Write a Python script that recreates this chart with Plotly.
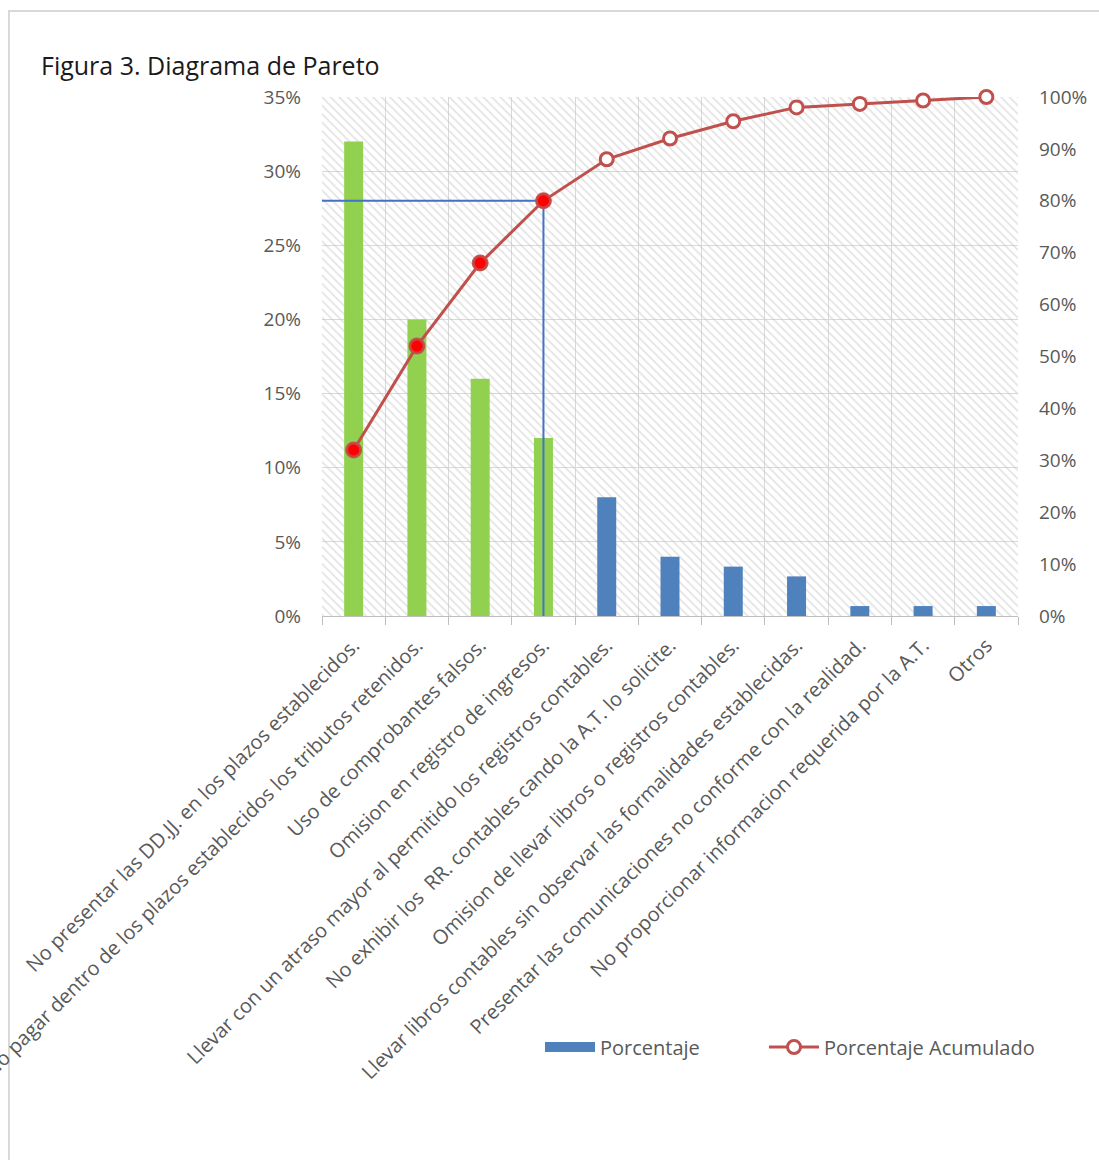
import plotly.graph_objects as go

categories = [
    "No presentar las DD.JJ. en los plazos establecidos.",
    "No pagar dentro de los plazos establecidos los tributos retenidos.",
    "Uso de comprobantes falsos.",
    "Omision en registro de ingresos.",
    "Llevar con un atraso mayor al permitido los registros contables.",
    "No exhibir los  RR. contables cando la A.T. lo solicite.",
    "Omision de llevar libros o registros contables.",
    "Llevar libros contables sin observar las formalidades establecidas.",
    "Presentar las comunicaciones no conforme con la realidad.",
    "No proporcionar informacion requerida por la A.T.",
    "Otros",
]
porcentaje = [32.0, 20.0, 16.0, 12.0, 8.0, 4.0, 3.33, 2.67, 0.67, 0.67, 0.67]
acumulado = [32.0, 52.0, 68.0, 80.0, 88.0, 92.0, 95.33, 98.0, 98.67, 99.33, 100.0]
left_ticks = [0, 5, 10, 15, 20, 25, 30, 35]
right_ticks = [0, 10, 20, 30, 40, 50, 60, 70, 80, 90, 100]
threshold = 80.0

n = len(categories)
idx = list(range(n))
vital = [a <= threshold for a in acumulado]
GREEN = "#92D050"
BLUE = "#4F81BD"
RED = "#C0504D"
GRAY = "#595959"
FONT = "Open Sans"

# plot area in px
L, R, T, B = 322, 1018, 97, 616
W, H = R - L, B - T
def px_x(p):
    return (p - L) / W
def px_y(p):
    return (B - p) / H

fig = go.Figure()

# hatched background of plot area
fig.add_trace(go.Bar(
    x=[(n - 1) / 2], y=[left_ticks[-1]], width=[n],
    marker=dict(color="rgba(0,0,0,0)", line=dict(width=0),
                pattern=dict(shape="\\", fgcolor="#c8c8c8", bgcolor="rgba(0,0,0,0)",
                             size=6, solidity=0.3, fillmode="overlay")),
    showlegend=False, hoverinfo="skip"))

fig.add_trace(go.Bar(
    x=idx, y=porcentaje, width=0.3,
    marker=dict(color=[GREEN if v else BLUE for v in vital], line=dict(width=0)),
    showlegend=False, name="Porcentaje"))

# legend-only entry (wide swatch)
fig.add_trace(go.Scatter(x=[None], y=[None], mode="lines", name="Porcentaje",
                         line=dict(color=BLUE, width=12), legend="legend"))

# pareto 80% guide lines
cut = max(i for i in idx if vital[i])
fig.add_trace(go.Scatter(
    x=[-0.5, cut, cut], y=[threshold, threshold, 0], yaxis="y2", mode="lines",
    line=dict(color="#4472C4", width=2), showlegend=False, hoverinfo="skip"))

fig.add_trace(go.Scatter(
    x=idx, y=acumulado, yaxis="y2", mode="lines+markers", name="Porcentaje Acumulado",
    line=dict(color=RED, width=3), cliponaxis=False, legend="legend2",
    marker=dict(size=13, color="white", line=dict(color=RED, width=3))))

fig.add_trace(go.Scatter(
    x=[i for i in idx if vital[i]], y=[a for a, v in zip(acumulado, vital) if v],
    yaxis="y2", mode="markers", showlegend=False, cliponaxis=False,
    marker=dict(size=14, color="#FF0000", line=dict(color="rgba(192,80,77,0.8)", width=3))))

fig.update_layout(
    width=1099, height=1160,
    margin=dict(l=L, r=1099 - R, t=T, b=1160 - B, autoexpand=False),
    paper_bgcolor="white", plot_bgcolor="white",
    barmode="overlay",
    font=dict(family=FONT, color=GRAY, size=19),
    title=dict(text="Figura 3. Diagrama de Pareto", x=41 / 1099, xanchor="left",
               y=1 - 66 / 1160, yanchor="middle",
               font=dict(family=FONT, size=25, color="#1a1a1a")),
    xaxis=dict(range=[-0.5, n - 0.5], tickmode="array", tickvals=idx, ticktext=categories,
               tickangle=-45, showgrid=False, zeroline=False, ticks="",
               showline=True, linecolor="#bfbfbf", linewidth=1,
               tickfont=dict(size=20, color=GRAY), ticklabeloverflow="allow",
               ticklabelstandoff=9,
               minor=dict(tickmode="array", tickvals=[i - 0.5 for i in range(n + 1)],
                          showgrid=True, gridcolor="#d9d9d9", gridwidth=1,
                          ticks="outside", ticklen=8, tickcolor="#bfbfbf"),
               automargin=False, fixedrange=True),
    yaxis=dict(range=[0, left_ticks[-1]], tickmode="array", tickvals=left_ticks,
               ticktext=[f"{v}%" for v in left_ticks],
               showgrid=True, gridcolor="#d9d9d9", gridwidth=1, zeroline=False,
               showline=False, ticks="", ticklabelstandoff=20,
               tickfont=dict(size=19, color=GRAY), automargin=False),
    yaxis2=dict(range=[0, right_ticks[-1]], tickmode="array", tickvals=right_ticks,
                ticktext=[f"{v}%" for v in right_ticks],
                overlaying="y", side="right", showgrid=False, zeroline=False,
                showline=False, ticks="", ticklabelstandoff=20,
                tickfont=dict(size=19, color=GRAY), automargin=False),
    legend=dict(orientation="h", x=px_x(540), y=px_y(1047), xanchor="left", yanchor="middle",
                font=dict(size=20, color=GRAY), itemwidth=50, bgcolor="rgba(0,0,0,0)"),
    legend2=dict(orientation="h", x=px_x(764), y=px_y(1047), xanchor="left", yanchor="middle",
                 font=dict(size=20, color=GRAY), itemwidth=50, bgcolor="rgba(0,0,0,0)"),
    shapes=[dict(type="rect", xref="paper", yref="paper",
                 x0=px_x(9), x1=px_x(1110), y0=px_y(1175), y1=px_y(11),
                 line=dict(color="#d9d9d9", width=2), fillcolor="rgba(0,0,0,0)",
                 layer="below")],
)

fig.write_html("out.html")
